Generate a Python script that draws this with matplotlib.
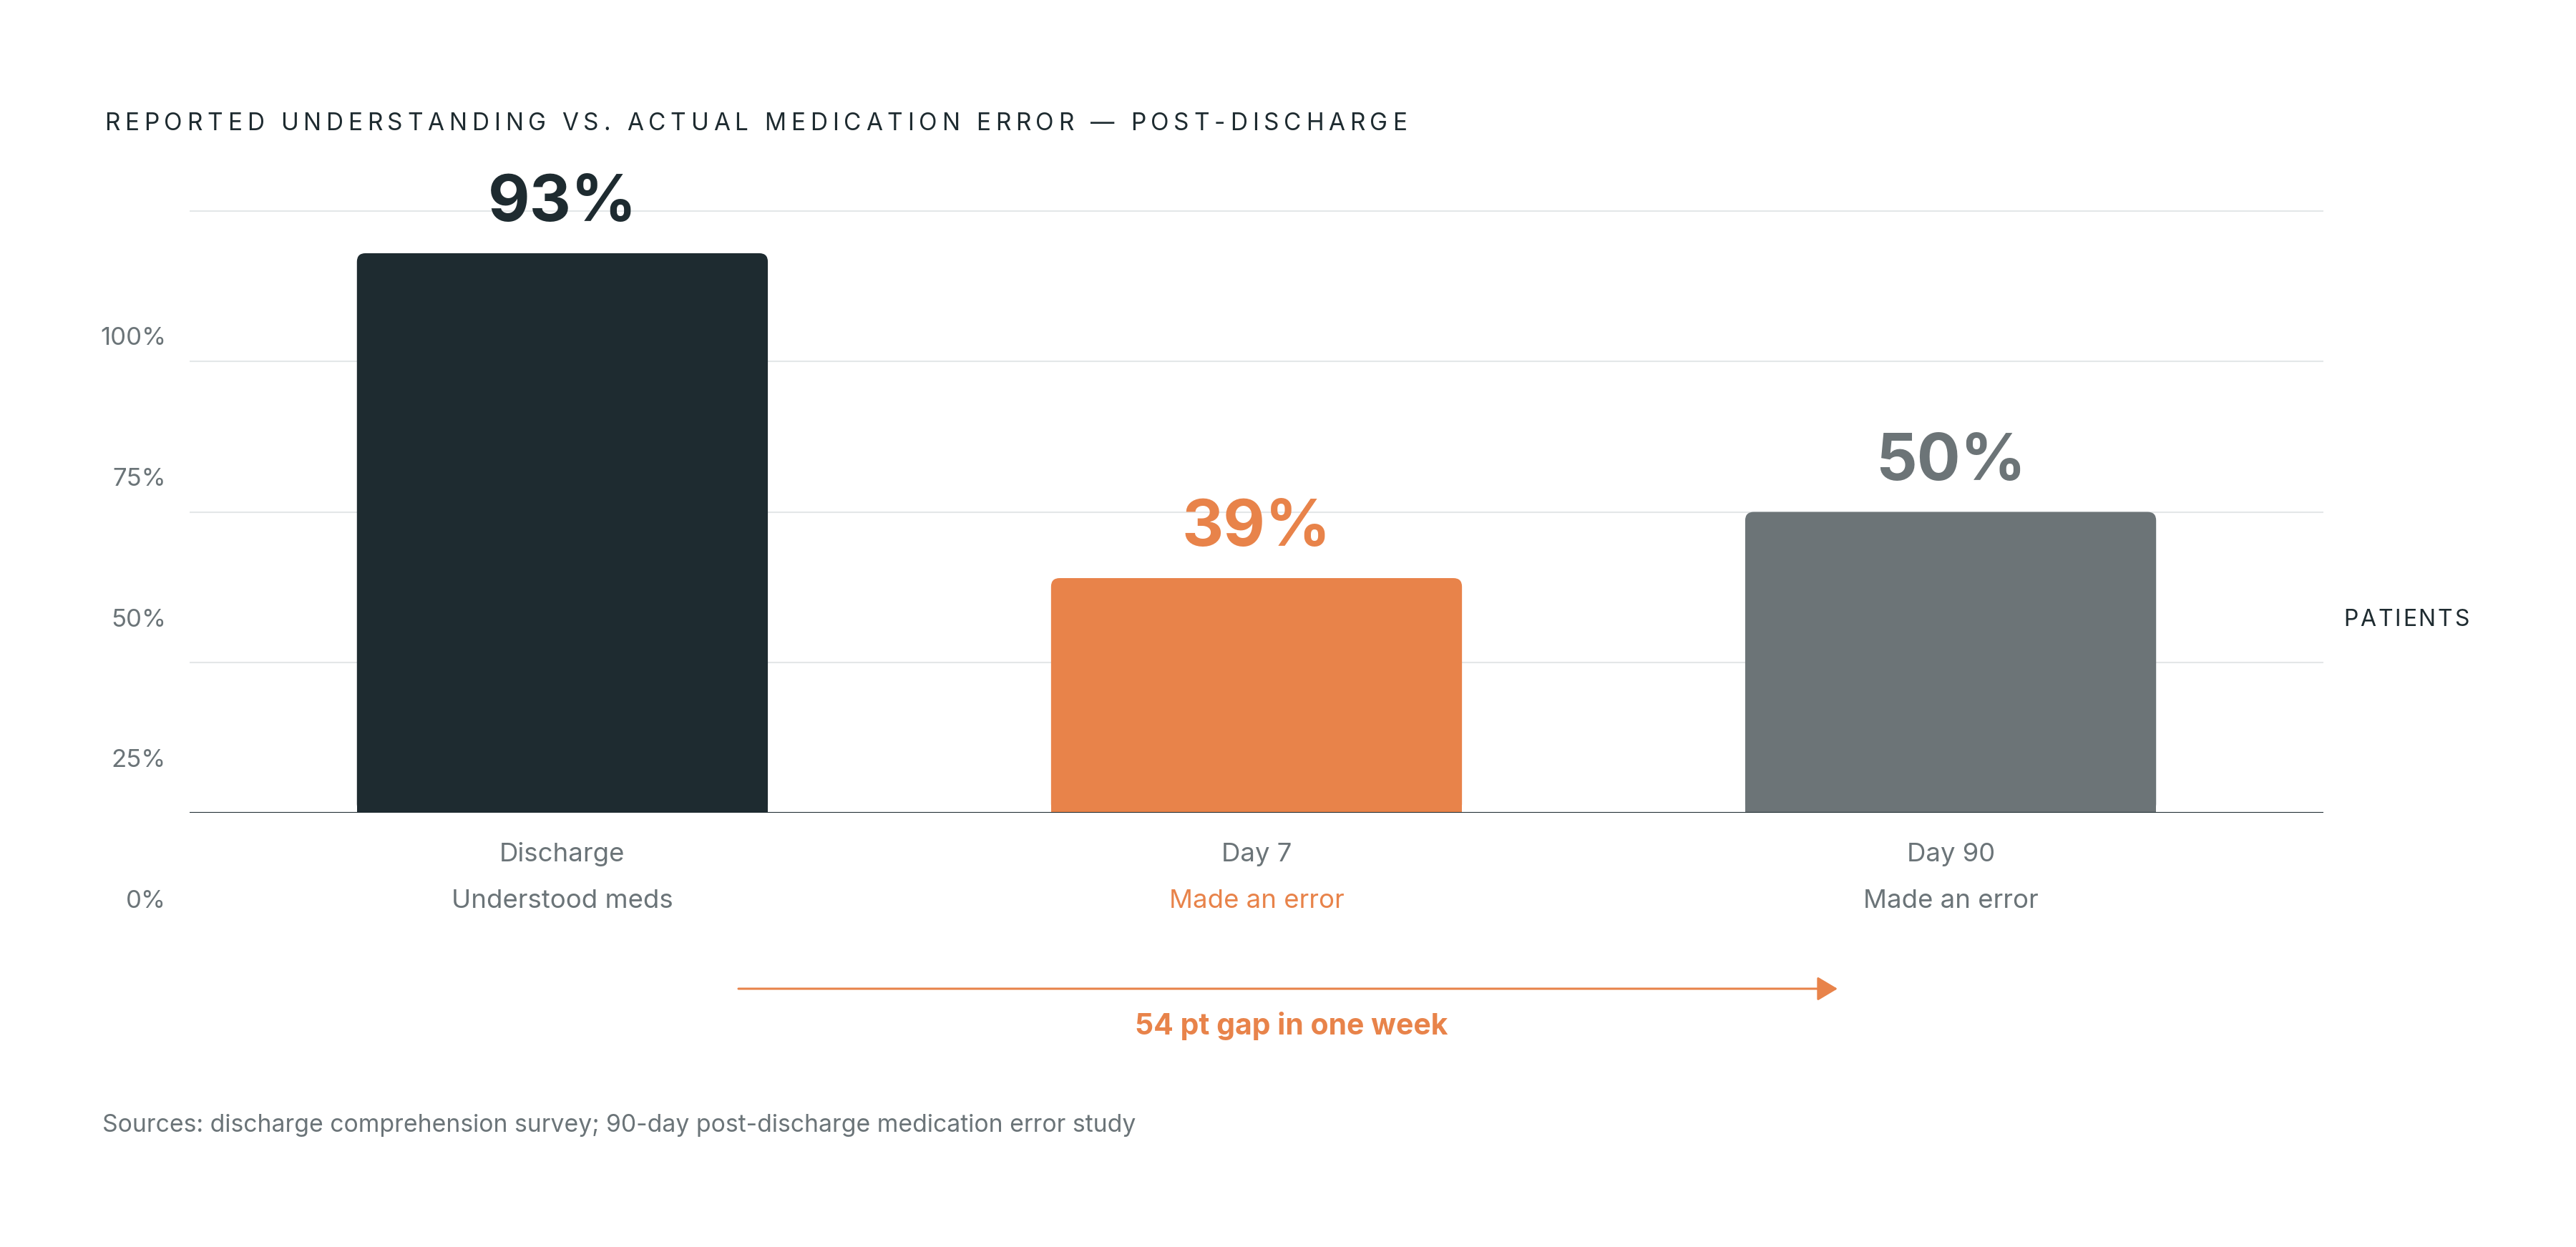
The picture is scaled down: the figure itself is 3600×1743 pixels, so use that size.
import matplotlib
matplotlib.use('Agg')
import matplotlib.pyplot as plt
from matplotlib.patches import FancyBboxPatch, Rectangle
from matplotlib.font_manager import FontProperties, findfont
from matplotlib.ft2font import FT2Font

# data
categories = ['Discharge', 'Day 7', 'Day 90']
sublabels = ['Understood meds', 'Made an error', 'Made an error']
values = [93, 39, 50]
ytick_vals = [0, 25, 50, 75, 100]
ytick_labels = ['0%', '25%', '50%', '75%', '100%']

DARK = '#1e2b30'
ORANGE = '#e8834a'
GREY = '#6c7477'
TXT = '#6b7478'
GRID = '#e4e7e8'
bar_colors = [DARK, ORANGE, GREY]
sub_colors = [TXT, ORANGE, TXT]

W, H, DPI = 3600, 1743, 100
plt.rcParams['font.family'] = ['Inter', 'DejaVu Sans']

fig = plt.figure(figsize=(W / DPI, H / DPI), dpi=DPI)


def fx(px):
    return px / W


def fy(py):
    return 1 - py / H


def tracked(x, y, s, size, color, width, weight='normal'):
    # letter-spaced text, stretched to a given pixel width
    prop = FontProperties(family='Inter', size=size, weight=weight)
    font = FT2Font(findfont(prop))
    font.set_size(size, DPI)
    adv = [font.load_char(ord(c)).linearHoriAdvance / 65536 for c in s]
    track = (width - sum(adv[:-1])) / (len(s) - 1) if len(s) > 1 else 0
    pen = x
    for c, a in zip(s, adv):
        fig.text(fx(pen), fy(y), c, fontproperties=prop, color=color,
                 ha='left', va='baseline')
        pen += a + track


# main axes: y=0 at 1136 px, 8.41 px per percent
ax = fig.add_axes([fx(265), fy(1136), fx(2982), (1136 - 211) / H])
ax.set_xlim(-0.537, 2.537)
ax.set_ylim(0, 110)
for s in ax.spines.values():
    s.set_visible(False)
ax.set_xticks([])
ax.set_yticks(ytick_vals)
ax.tick_params(axis='y', length=0, labelleft=False)
ax.yaxis.grid(True, color=GRID, lw=1.5)
ax.set_axisbelow(True)
ax.axhline(0, color=DARK, lw=2.2, zorder=5)

x = list(range(len(categories)))
bars = ax.bar(x, values, width=0.592, color=bar_colors, zorder=3)

px_x = 2982 / 3.074
px_y = 925 / 110
r_px = 12
for b, col in zip(bars, bar_colors):
    x0, w, h = b.get_x(), b.get_width(), b.get_height()
    b.set_visible(False)
    ax.add_patch(FancyBboxPatch((x0, 0), w, h,
                                boxstyle=f'round,pad=0,rounding_size={r_px / px_x}',
                                mutation_aspect=px_x / px_y,
                                fc=col, ec='none', zorder=3))
    ax.add_patch(Rectangle((x0, 0), w, h / 2, fc=col, ec='none', zorder=3))

for i, v in enumerate(values):
    ax.annotate(f'{v}%', xy=(i, v), xytext=(0, 32.4), textcoords='offset points',
                ha='center', va='baseline', fontsize=65, fontweight='bold',
                color=bar_colors[i], annotation_clip=False)
    ax.annotate(categories[i], xy=(i, 0), xytext=(0, -49), textcoords='offset points',
                ha='center', va='baseline', fontsize=26.3, color=TXT,
                annotation_clip=False)
    ax.annotate(sublabels[i], xy=(i, 0), xytext=(0, -95.8), textcoords='offset points',
                ha='center', va='baseline', fontsize=26.3, color=sub_colors[i],
                annotation_clip=False)

# y labels sit on their own scale, offset from the gridlines
lab = fig.add_axes([fx(265), fy(1269), 0.0001, (1269 - 482) / H])
lab.patch.set_visible(False)
for s in lab.spines.values():
    s.set_visible(False)
lab.set_ylim(0, 100)
lab.set_xticks([])
lab.set_yticks(ytick_vals, ytick_labels)
lab.tick_params(axis='y', length=0, pad=23.8, labelsize=25, labelcolor=TXT)
for t in lab.get_yticklabels():
    t.set_va('baseline')

# title, side label
tracked(146, 182, 'REPORTED UNDERSTANDING VS. ACTUAL MEDICATION ERROR \u2014 POST-DISCHARGE',
        24, DARK, 1800)
tracked(3275, 875, 'PATIENTS', 23, DARK, 155)

# gap arrow
ax.annotate('', xy=(2568, H - 1382), xytext=(1032, H - 1382), xycoords='figure pixels',
            arrowprops=dict(arrowstyle='-|>,head_length=0.87,head_width=0.52',
                            mutation_scale=20, color=ORANGE, lw=2.2,
                            shrinkA=0, shrinkB=0))
fig.text(fx(1805), fy(1446), '54 pt gap in one week', ha='center', va='baseline',
         fontsize=29.5, fontweight='bold', color=ORANGE)

fig.text(fx(143), fy(1582), 'Sources: discharge comprehension survey; 90-day post-discharge medication error study',
         ha='left', va='baseline', fontsize=24.3, color=TXT)

fig.savefig('out.png', dpi=DPI, facecolor='white')
